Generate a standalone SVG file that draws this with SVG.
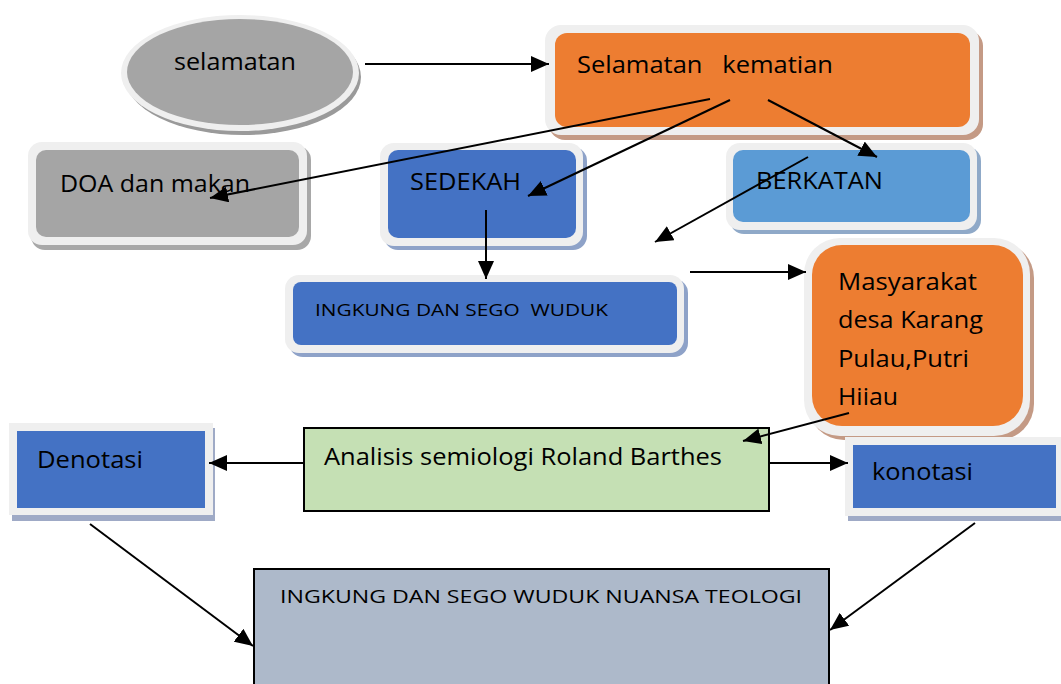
<svg xmlns="http://www.w3.org/2000/svg" width="1061" height="684" viewBox="0 0 1061 684">
<style>
text{font-family:"Open Sans","Liberation Sans",sans-serif;fill:#000}
.t24{font-size:24px}
.t17{font-size:17px}
.t19{font-size:19px}
.border{fill:#EFEFEF}
.ln{stroke:#000;stroke-width:2;fill:none;marker-end:url(#ah)}
</style>
<defs>
<marker id="ah" markerUnits="userSpaceOnUse" markerWidth="20" markerHeight="16" refX="18" refY="8" orient="auto">
<path d="M0,0 L18,8 L0,16 Z" fill="#000"/>
</marker>
</defs>
<rect width="1061" height="684" fill="#fff"/>

<g id="selamatan">
<ellipse cx="243" cy="77" rx="118" ry="58" fill="#9A9A9A"/>
<ellipse cx="240" cy="73" rx="119" ry="58" class="border"/>
<ellipse cx="240" cy="72" rx="113" ry="53" fill="#A5A5A5"/>
<text class="t24" x="174" y="70" textLength="122" lengthAdjust="spacingAndGlyphs">selamatan</text>
</g>

<g id="selamatan-kematian">
<rect x="549" y="30" width="434" height="110" rx="16" fill="#C49A85"/>
<rect x="545" y="25" width="434" height="110" rx="16" class="border"/>
<rect x="555" y="33" width="415" height="94" rx="12" fill="#ED7D31"/>
<text class="t24" x="577" y="73" textLength="256" lengthAdjust="spacingAndGlyphs" xml:space="preserve">Selamatan   kematian</text>
</g>

<g id="doa">
<rect x="31" y="146" width="280" height="104" rx="14" fill="#A8A8A8"/>
<rect x="28" y="142" width="279" height="103" rx="14" class="border"/>
<rect x="36" y="150" width="263" height="87" rx="10" fill="#A5A5A5"/>
<text class="t24" x="60" y="192" textLength="190" lengthAdjust="spacingAndGlyphs">DOA dan makan</text>
</g>

<g id="sedekah">
<rect x="384" y="147" width="203" height="103" rx="14" fill="#8EA2C8"/>
<rect x="380" y="143" width="203" height="103" rx="14" class="border"/>
<rect x="388" y="150" width="188" height="88" rx="10" fill="#4472C4"/>
<text class="t24" x="410" y="190" textLength="111" lengthAdjust="spacingAndGlyphs">SEDEKAH</text>
</g>

<g id="berkatan">
<rect x="730" y="147" width="251" height="87" rx="14" fill="#8FA9C8"/>
<rect x="726" y="143" width="251" height="87" rx="14" class="border"/>
<rect x="733" y="150" width="237" height="72" rx="10" fill="#5B9BD5"/>
<text class="t24" x="756" y="189" textLength="127" lengthAdjust="spacingAndGlyphs">BERKATAN</text>
</g>

<g id="ingkung">
<rect x="289" y="279" width="399" height="78" rx="14" fill="#8EA2C8"/>
<rect x="285" y="275" width="399" height="78" rx="14" class="border"/>
<rect x="293" y="282" width="384" height="63" rx="8" fill="#4472C4"/>
<text class="t17" x="315" y="316" textLength="293" lengthAdjust="spacingAndGlyphs" xml:space="preserve">INGKUNG DAN SEGO  WUDUK</text>
</g>

<g id="masyarakat">
<rect x="808" y="242" width="226" height="198" rx="36" fill="#C49A85"/>
<rect x="804" y="238" width="226" height="198" rx="36" class="border"/>
<rect x="812" y="245" width="211" height="181" rx="30" fill="#ED7D31"/>
<text class="t24" x="838" y="290" textLength="139" lengthAdjust="spacingAndGlyphs">Masyarakat</text>
<text class="t24" x="838" y="328" textLength="145" lengthAdjust="spacingAndGlyphs">desa Karang</text>
<text class="t24" x="838" y="367" textLength="131" lengthAdjust="spacingAndGlyphs">Pulau,Putri</text>
<text class="t24" x="838" y="405" textLength="60" lengthAdjust="spacingAndGlyphs">Hiiau</text>
</g>

<g id="denotasi">
<rect x="12" y="428" width="203" height="93" fill="#9FAAC6"/>
<rect x="9" y="423" width="204" height="92" class="border"/>
<rect x="17" y="431" width="188" height="77" fill="#4472C4"/>
<text class="t24" x="37" y="468" textLength="106" lengthAdjust="spacingAndGlyphs">Denotasi</text>
</g>

<g id="analisis">
<rect x="304" y="428" width="465" height="83" fill="#C5E0B4" stroke="#000" stroke-width="2"/>
<text class="t24" x="324" y="465" textLength="398" lengthAdjust="spacingAndGlyphs">Analisis semiologi Roland Barthes</text>
</g>

<g id="konotasi">
<rect x="848" y="440" width="215" height="81" fill="#9FAAC6"/>
<rect x="845" y="437" width="220" height="79" class="border"/>
<rect x="853" y="445" width="203" height="63" fill="#4472C4"/>
<text class="t24" x="872" y="480" textLength="101" lengthAdjust="spacingAndGlyphs">konotasi</text>
</g>

<g id="teologi">
<rect x="254" y="569" width="575" height="130" fill="#ADB9CA" stroke="#000" stroke-width="2"/>
<text class="t19" x="280" y="603" textLength="522" lengthAdjust="spacingAndGlyphs">INGKUNG DAN SEGO WUDUK NUANSA TEOLOGI</text>
</g>

<g id="connectors">
<line class="ln" x1="365" y1="64" x2="549" y2="64"/>
<line class="ln" x1="710" y1="99" x2="210" y2="198"/>
<line class="ln" x1="730" y1="100" x2="528" y2="196"/>
<line class="ln" x1="768" y1="100" x2="877" y2="157"/>
<line class="ln" x1="808" y1="157" x2="655" y2="242"/>
<line class="ln" x1="486" y1="210" x2="486" y2="279"/>
<line class="ln" x1="690" y1="272" x2="806" y2="272"/>
<line class="ln" x1="849" y1="413" x2="743" y2="441"/>
<line class="ln" x1="304" y1="463" x2="209" y2="463"/>
<line class="ln" x1="769" y1="463" x2="848" y2="463"/>
<line class="ln" x1="90" y1="524" x2="253" y2="646"/>
<line class="ln" x1="975" y1="523" x2="830" y2="630"/>
</g>
</svg>
